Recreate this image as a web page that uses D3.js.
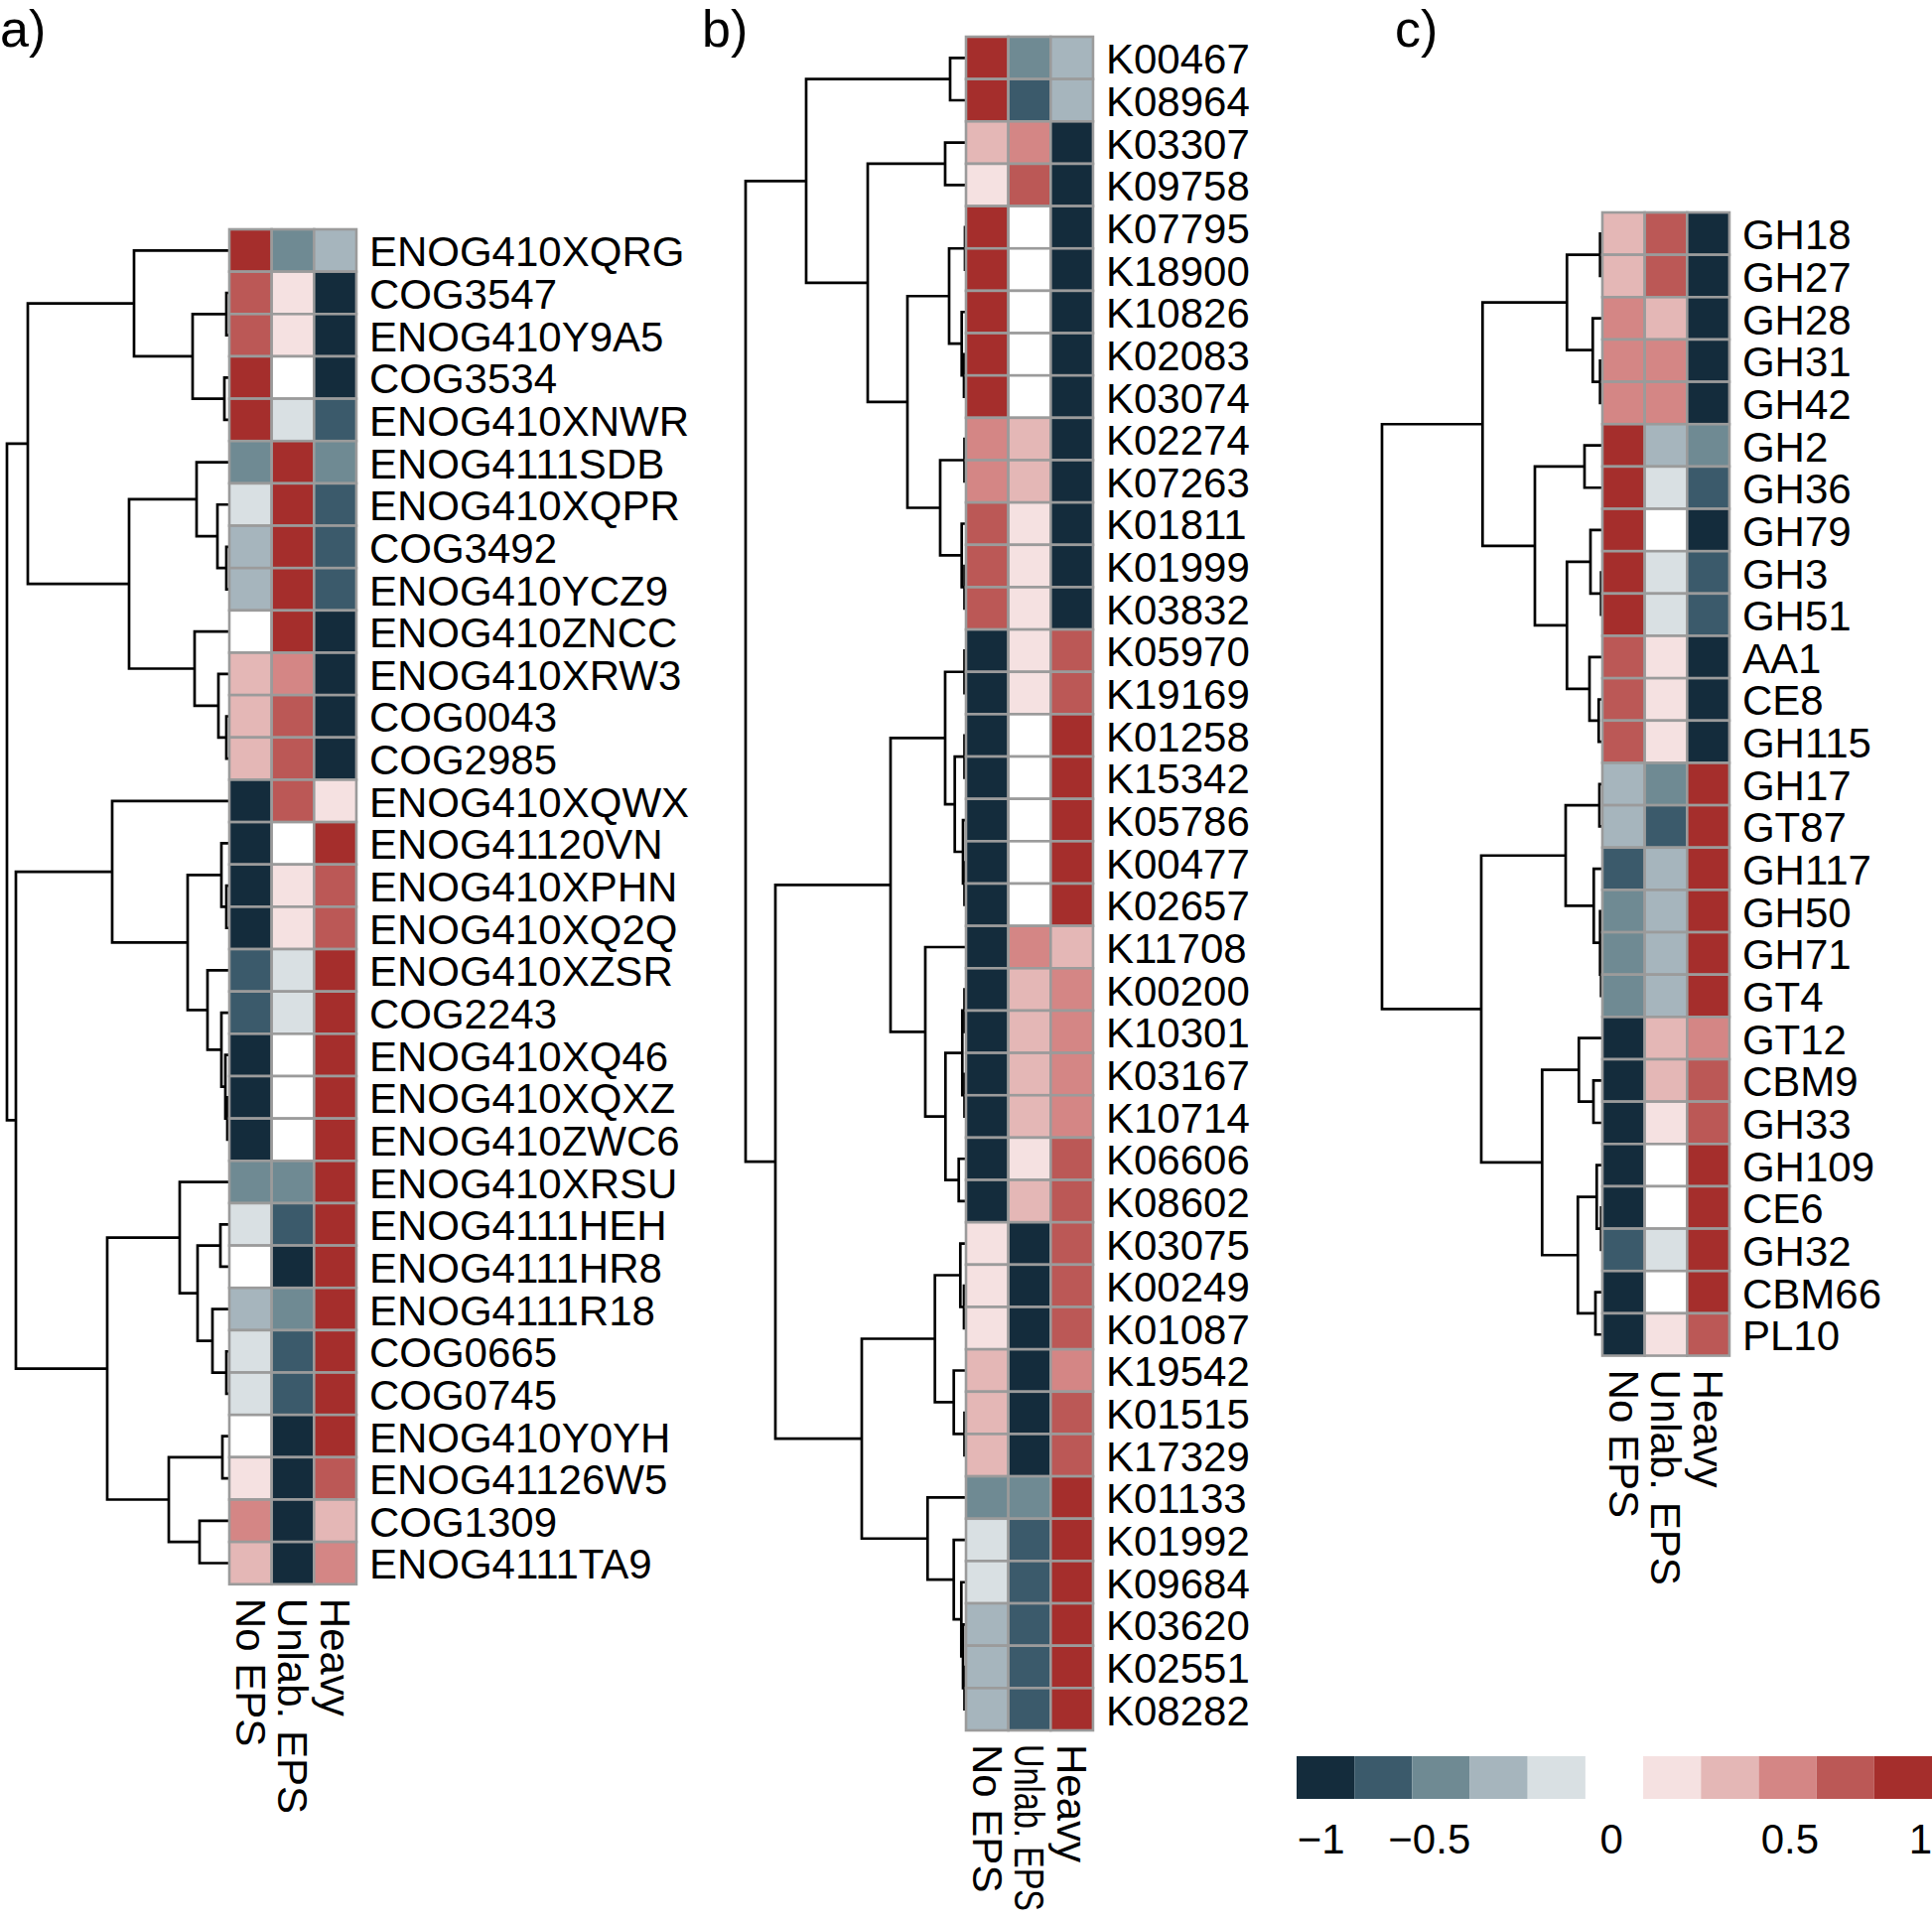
<!DOCTYPE html>
<html><head><meta charset="utf-8">
<script src="https://cdn.jsdelivr.net/npm/d3@7"></script>
<style>
body{margin:0;background:#fff}
svg{display:block}
text{font-family:"Liberation Sans",Arial,Helvetica,sans-serif;fill:#000}
</style>
</head><body>
<svg id="chart" width="1946" height="1935"></svg>
<script>
// ---------------- data ----------------
const columns = ["No EPS", "Unlab. EPS", "Heavy"];

const rowsA = ["ENOG410XQRG","COG3547","ENOG410Y9A5","COG3534","ENOG410XNWR","ENOG4111SDB","ENOG410XQPR","COG3492","ENOG410YCZ9","ENOG410ZNCC","ENOG410XRW3","COG0043","COG2985","ENOG410XQWX","ENOG41120VN","ENOG410XPHN","ENOG410XQ2Q","ENOG410XZSR","COG2243","ENOG410XQ46","ENOG410XQXZ","ENOG410ZWC6","ENOG410XRSU","ENOG4111HEH","ENOG4111HR8","ENOG4111R18","COG0665","COG0745","ENOG410Y0YH","ENOG41126W5","COG1309","ENOG4111TA9"];
const valuesA = [
  [1,-0.6,-0.4],[0.8,0.2,-1],[0.8,0.2,-1],[1,0,-1],[1,-0.2,-0.8],
  [-0.6,1,-0.6],[-0.2,1,-0.8],[-0.4,1,-0.8],[-0.4,1,-0.8],[0,1,-1],
  [0.4,0.6,-1],[0.4,0.8,-1],[0.4,0.8,-1],[-1,0.8,0.2],[-1,0,1],
  [-1,0.2,0.8],[-1,0.2,0.8],[-0.8,-0.2,1],[-0.8,-0.2,1],[-1,0,1],
  [-1,0,1],[-1,0,1],[-0.6,-0.6,1],[-0.2,-0.8,1],[0,-1,1],
  [-0.4,-0.6,1],[-0.2,-0.8,1],[-0.2,-0.8,1],[0,-1,1],[0.2,-1,0.8],
  [0.6,-1,0.4],[0.4,-1,0.6]
];
// dendrogram: [mergeHeight, upperChild, lowerChild]; leaves are row indices
const treeA = [224,
  [203,
    [96, 0, [37, [3, 1, 2], [5, 3, 4]]],
    [101, [33, 5, [12, 6, [3, 7, 8]]], [35, 9, [11, 10, [3, 11, 12]]]]
  ],
  [215,
    [118, 13, [42, [8, 14, [3, 15, 16]], [22, 17, [8, 18, [4, 19, [2, 20, 21]]]]]],
    [123, [50, 22, [32, [9, 23, 24], [17, 25, [3, 26, 27]]]], [61, [7, 28, 29], [30, 30, 31]]]
  ]
];

const rowsB = ["K00467","K08964","K03307","K09758","K07795","K18900","K10826","K02083","K03074","K02274","K07263","K01811","K01999","K03832","K05970","K19169","K01258","K15342","K05786","K00477","K02657","K11708","K00200","K10301","K03167","K10714","K06606","K08602","K03075","K00249","K01087","K19542","K01515","K17329","K01133","K01992","K09684","K03620","K02551","K08282"];
const valuesB = [
  [1,-0.6,-0.4],[1,-0.8,-0.4],[0.4,0.6,-1],[0.2,0.8,-1],[1,0,-1],
  [1,0,-1],[1,0,-1],[1,0,-1],[1,0,-1],[0.6,0.4,-1],
  [0.6,0.4,-1],[0.8,0.2,-1],[0.8,0.2,-1],[0.8,0.2,-1],[-1,0.2,0.8],
  [-1,0.2,0.8],[-1,0,1],[-1,0,1],[-1,0,1],[-1,0,1],
  [-1,0,1],[-1,0.6,0.4],[-1,0.4,0.6],[-1,0.4,0.6],[-1,0.4,0.6],
  [-1,0.4,0.6],[-1,0.2,0.8],[-1,0.4,0.8],[0.2,-1,0.8],[0.2,-1,0.8],
  [0.2,-1,0.8],[0.4,-1,0.6],[0.4,-1,0.8],[0.4,-1,0.8],[-0.6,-0.6,1],
  [-0.2,-0.8,1],[-0.2,-0.8,1],[-0.4,-0.8,1],[-0.4,-0.8,1],[-0.4,-0.8,1]
];
const treeB = [222,
  [161,
    [16, 0, 1],
    [99,
      [21, 2, 3],
      [59,
        [17, [1, 4, 5], [4.3, 6, [2, 7, 8]]],
        [26, [1.5, 9, 10], [4.3, 11, [1.5, 12, 13]]]
      ]
    ]
  ],
  [192,
    [76,
      [21, [1.5, 14, 15], [11.3, [1.5, 16, 17], [3, 18, [1.5, 19, 20]]]],
      [41, 21, [20.7, [3.7, [1.5, 22, 23], [1.5, 24, 25]], [7.3, 26, 27]]]
    ],
    [105,
      [31.3, [5.7, 28, [2, 29, 30]], [12.3, 31, [1.5, 32, 33]]],
      [38.7, 34, [12.3, 35, [4.7, 36, [3, 37, [1.5, 38, 39]]]]]
    ]
  ]
];

const rowsC = ["GH18","GH27","GH28","GH31","GH42","GH2","GH36","GH79","GH3","GH51","AA1","CE8","GH115","GH17","GT87","GH117","GH50","GH71","GT4","GT12","CBM9","GH33","GH109","CE6","GH32","CBM66","PL10"];
const valuesC = [
  [0.4,0.8,-1],[0.4,0.8,-1],[0.6,0.4,-1],[0.6,0.6,-1],[0.6,0.6,-1],
  [1,-0.4,-0.6],[1,-0.2,-0.8],[1,0,-1],[1,-0.2,-0.8],[1,-0.2,-0.8],
  [0.8,0.2,-1],[0.8,0.2,-1],[0.8,0.2,-1],[-0.4,-0.6,1],[-0.4,-0.8,1],
  [-0.8,-0.4,1],[-0.6,-0.4,1],[-0.6,-0.4,1],[-0.6,-0.4,1],[-1,0.4,0.6],
  [-1,0.4,0.8],[-1,0.2,0.8],[-1,0,1],[-1,0,1],[-0.8,-0.2,1],
  [-1,0,1],[-1,0.2,0.8]
];
const treeC = [222,
  [120.7,
    [35.7, [2.3, 0, 1], [9.7, 2, [2.3, 3, 4]]],
    [68, [18, 5, 6], [35.7, [12, 7, [1.3, 8, 9]], [13, 10, [3.7, 11, 12]]]]
  ],
  [122,
    [37, [3, 13, 14], [8.7, 15, [2.3, 16, [1.3, 17, 18]]]],
    [60.7, [23.7, 19, [9, 20, 21]], [24.7, [5.7, 22, [1.3, 23, 24]], [7, 25, 26]]]
  ]
];

const colorSteps = ["#142c3c","#3b5a6b","#6f8a93","#a6b5bd","#d9e0e3","#ffffff","#f5e1e1","#e4b7b6","#d48685","#bb5856","#a52e2c"];
const legendValues = [-1,-0.8,-0.6,-0.4,-0.2,0,0.2,0.4,0.6,0.8,1];
const legendTickLabels = ["\u22121","\u22120.5","0","0.5","1"];
const legendTickAt = [-1.015,-0.64,-0.01,0.608,1.06];

// ---------------- drawing ----------------
const W = 1946, H = 1935;
const svg = d3.select("#chart");
const CELL = 42.65;
const FS = 42;
const color = d3.scaleQuantize().domain([-1.1, 1.1]).range(colorSteps);

function drawPanel(cfg) {
  const g = svg.append("g");
  const y = d3.scaleBand().domain(d3.range(cfg.rows.length))
    .range([cfg.top, cfg.top + cfg.rows.length * CELL]);
  const x = d3.scaleBand().domain(columns).range([cfg.left, cfg.left + 3 * CELL]);
  const hx = d3.scaleLinear().domain([0, cfg.tree[0]]).range([cfg.left, cfg.left - cfg.dendroWidth]);

  // dendrogram
  const segs = [];
  function lay(node) {
    if (typeof node === "number") return {x: cfg.left, y: y(node) + y.bandwidth() / 2};
    const a = lay(node[1]), b = lay(node[2]);
    const nx = hx(node[0]);
    segs.push(`M${a.x},${a.y}H${nx}V${b.y}H${b.x}`);
    return {x: nx, y: (a.y + b.y) / 2};
  }
  lay(cfg.tree);
  g.append("g").selectAll("path").data(segs).join("path")
    .attr("d", d => d).attr("fill", "none").attr("stroke", "#000")
    .attr("stroke-width", 2.7).attr("stroke-linejoin", "miter");

  // cells
  const cells = [];
  cfg.values.forEach((r, i) => r.forEach((v, j) => cells.push({i, j, v})));
  g.append("g").selectAll("rect").data(cells).join("rect")
    .attr("x", d => x(columns[d.j])).attr("y", d => y(d.i))
    .attr("width", x.bandwidth()).attr("height", y.bandwidth())
    .attr("fill", d => color(d.v)).attr("stroke", "#9b9b9b").attr("stroke-width", 2.6);

  // row labels
  g.append("g").selectAll("text").data(cfg.rows).join("text")
    .attr("x", cfg.left + 3 * CELL + 13).attr("y", (d, i) => y(i) + y.bandwidth() / 2 + 1.5)
    .attr("dominant-baseline", "central").attr("font-size", FS).text(d => d);

  // column labels (squeezed along their length if they would run off the page)
  const bottom = cfg.top + cfg.rows.length * CELL;
  const top0 = bottom + 14;
  g.append("g").selectAll("text").data(columns).join("text")
    .attr("dominant-baseline", "central").attr("text-anchor", "start")
    .attr("font-size", FS).text(d => d)
    .each(function(d) {
      const len = this.getComputedTextLength();
      const room = H - 10 - top0;
      const k = len > room ? room / len : 1;
      d3.select(this).attr("transform",
        `translate(${x(d) + x.bandwidth() / 2},${top0}) rotate(90) scale(${k},1)`);
    });

  // panel label
  svg.append("text").attr("x", cfg.labelX).attr("y", 47).attr("font-size", 52).text(cfg.label);
}

drawPanel({rows: rowsA, values: valuesA, tree: treeA, left: 231, top: 231, dendroWidth: 224, label: "a)", labelX: 0});
drawPanel({rows: rowsB, values: valuesB, tree: treeB, left: 973, top: 37, dendroWidth: 222, label: "b)", labelX: 707});
drawPanel({rows: rowsC, values: valuesC, tree: treeC, left: 1614, top: 214, dendroWidth: 222, label: "c)", labelX: 1405});

// legend
const legendX = d3.scaleLinear().domain([-1.1, 1.1]).range([1306, 1946]);
const lg = svg.append("g");
lg.selectAll("rect").data(legendValues).join("rect")
  .attr("x", d => legendX(d - 0.1)).attr("y", 1769)
  .attr("width", d => legendX(d + 0.1) - legendX(d - 0.1)).attr("height", 43)
  .attr("fill", d => color(d));
lg.selectAll("text").data(legendTickLabels).join("text")
  .attr("x", (d, i) => legendX(legendTickAt[i])).attr("y", 1867)
  .attr("text-anchor", "middle").attr("font-size", FS).text(d => d);
</script>
</body></html>
